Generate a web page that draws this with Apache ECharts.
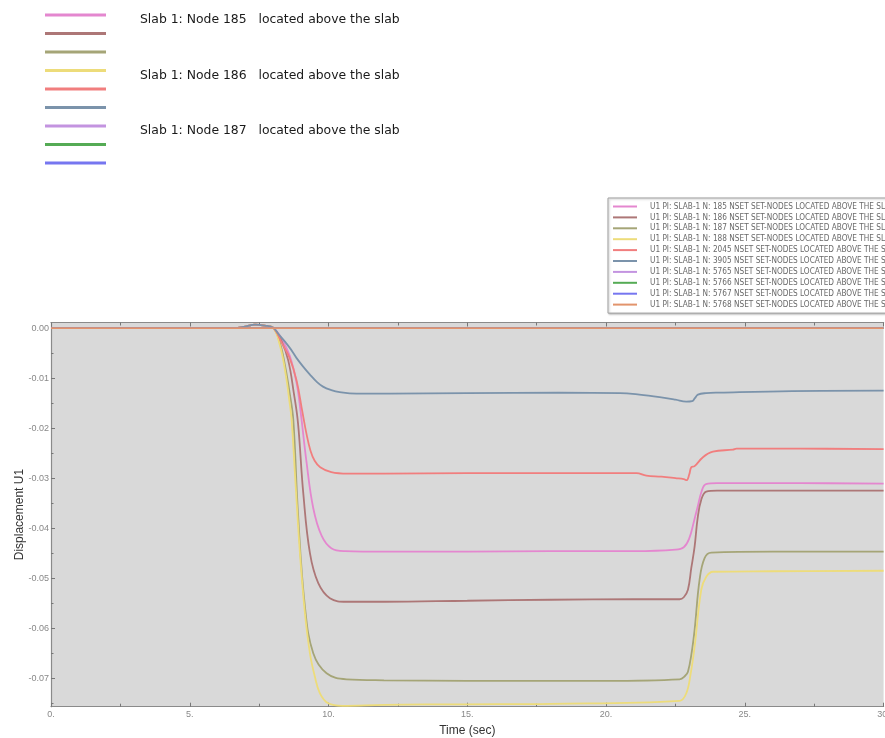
<!DOCTYPE html>
<html>
<head>
<meta charset="utf-8">
<title>Displacement U1 vs time</title>
<script src="https://cdn.jsdelivr.net/npm/echarts@6/dist/echarts.min.js"></script>
<style>
  html, body { margin: 0; padding: 0; background: #ffffff; }
  #chart { width: 885px; height: 738px; }
</style>
</head>
<body>
<div id="chart"></div>
<script>
// Node ids of the monitored points (NSET SET-NODES located above the slab)
const nodeIds = ['185', '186', '187', '188', '2045', '3905', '5765', '5766', '5767', '5768'];

// Line colour for each node
const nodeColors = ['#e487cf', '#ad7777', '#a5a577', '#eddc7a', '#f17e7e',
                    '#7b93ab', '#c394e0', '#55ab55', '#7676f0', '#e2946c'];

// Time history of U1 for each node: [time (sec), displacement]
const u1Node185 = [[0, 0], [6.6, 0], [7.0, 0.0003], [7.35, 0.0007], [7.7, 0.0005], [8.0, 0.0001],
  [8.3, -0.002], [8.6, -0.0055], [8.85, -0.011], [9.0, -0.017], [9.2, -0.0265], [9.45, -0.036],
  [9.75, -0.0415], [10.1, -0.044], [10.6, -0.0446], [12, -0.0447], [15, -0.0447], [18, -0.0446],
  [21, -0.0446], [22.5, -0.0443], [22.8, -0.0438], [23.0, -0.042], [23.15, -0.039], [23.3, -0.0357],
  [23.45, -0.0325], [23.6, -0.0312], [24, -0.031], [27, -0.031], [30, -0.0311]];

const u1Node186 = [[0, 0], [6.6, 0], [7.0, 0.0003], [7.35, 0.0007], [7.7, 0.0005], [8.0, 0.0001],
  [8.3, -0.0025], [8.55, -0.0065], [8.75, -0.013], [8.9, -0.019], [9.09, -0.033], [9.33, -0.045],
  [9.63, -0.051], [10.05, -0.054], [10.65, -0.0547], [12, -0.0547], [15, -0.0545], [18, -0.0543],
  [21, -0.0542], [22.65, -0.0542], [22.8, -0.0538], [22.95, -0.0523], [23.07, -0.048], [23.19, -0.0437],
  [23.3, -0.038], [23.43, -0.0343], [23.61, -0.0327], [24, -0.0325], [30, -0.0325]];

const u1Node187 = [[0, 0], [6.6, 0], [7.0, 0.0003], [7.35, 0.0007], [7.7, 0.0005], [8.0, 0.0001],
  [8.25, -0.003], [8.45, -0.008], [8.6, -0.013], [8.73, -0.0183], [8.9, -0.037], [9.15, -0.0557],
  [9.45, -0.065], [9.93, -0.069], [10.65, -0.0702], [12, -0.0704], [15, -0.0705], [20, -0.0705],
  [22.65, -0.0702], [22.85, -0.0695], [22.95, -0.0687], [23.08, -0.065], [23.19, -0.0603],
  [23.37, -0.0503], [23.55, -0.046], [23.79, -0.0449], [26, -0.0447], [30, -0.0447]];

const u1Node188 = [[0, 0], [6.6, 0], [7.0, 0.0003], [7.35, 0.0007], [7.7, 0.0005], [8.0, 0.0001],
  [8.25, -0.0035], [8.45, -0.009], [8.6, -0.015], [8.67, -0.0183], [8.8, -0.03], [8.97, -0.045],
  [9.15, -0.057], [9.33, -0.065], [9.5, -0.0695], [9.69, -0.073], [9.99, -0.075], [10.5, -0.0755],
  [12, -0.0753], [15, -0.0752], [18, -0.0751], [22.65, -0.0745], [22.89, -0.073], [23.05, -0.069],
  [23.19, -0.0637], [23.43, -0.0523], [23.61, -0.0497], [23.85, -0.0487], [26, -0.0486], [30, -0.0485]];

const u1Node2045 = [[0, 0], [6.6, 0], [7.0, 0.0003], [7.35, 0.0007], [7.7, 0.0005], [8.0, 0.0001],
  [8.3, -0.0028], [8.6, -0.006], [8.85, -0.0105], [9.05, -0.0165], [9.2, -0.021], [9.35, -0.0245],
  [9.5, -0.0265], [9.7, -0.0278], [10.1, -0.0288], [10.7, -0.0291], [12, -0.0291], [15, -0.029],
  [18, -0.029], [21.1, -0.029], [21.45, -0.0295], [22, -0.0297], [22.5, -0.03], [22.8, -0.0302],
  [22.9, -0.0304], [23.0, -0.0292], [23.07, -0.0278], [23.19, -0.0276], [23.49, -0.0258],
  [23.85, -0.0247], [24.57, -0.0243], [24.7, -0.0241], [27, -0.0241], [30, -0.0242]];

const u1Node3905 = [[0, 0], [6.6, 0], [7.0, 0.0003], [7.35, 0.0007], [7.7, 0.0005], [8.0, 0.0001],
  [8.2, -0.0012], [8.43, -0.0027], [8.65, -0.0043], [8.85, -0.006], [9.1, -0.0078], [9.33, -0.0093],
  [9.55, -0.0106], [9.8, -0.0117], [10.1, -0.0124], [10.4, -0.0128], [11, -0.0131], [12.2, -0.0131],
  [15, -0.013], [18.3, -0.0129], [20.5, -0.013], [21.2, -0.0133], [21.93, -0.0138], [22.5, -0.0143],
  [22.89, -0.0147], [23.1, -0.0146], [23.2, -0.014], [23.31, -0.0133], [23.6, -0.013], [24.1, -0.0129],
  [26.7, -0.0126], [30, -0.0125]];

const u1Node5765 = [[0, 0], [30, 0]];
const u1Node5766 = [[0, 0], [30, 0]];
const u1Node5767 = [[0, 0], [30, 0]];
const u1Node5768 = [[0, 0], [30, 0]];

const nodeHistories = [u1Node185, u1Node186, u1Node187, u1Node188, u1Node2045,
                       u1Node3905, u1Node5765, u1Node5766, u1Node5767, u1Node5768];

// Axis tick values
const timeTicks = [0, 5, 10, 15, 20, 25, 30];
const dispTicks = [0, -0.01, -0.02, -0.03, -0.04, -0.05, -0.06, -0.07];
const dispMinorTicks = [-0.005, -0.015, -0.025, -0.035, -0.045, -0.055, -0.065, -0.075];

// Captions in the upper-left key
const keyCaptions = [
  { node: '185', text: 'Slab 1: Node 185   located above the slab' },
  { node: '188', text: 'Slab 1: Node 186   located above the slab' },
  { node: '5765', text: 'Slab 1: Node 187   located above the slab' }
];

const seriesName = id => 'U1 PI: SLAB-1 N: ' + id + ' NSET SET-NODES LOCATED ABOVE THE SLAB';
const seriesNames = nodeIds.map(seriesName);

const chart = echarts.init(document.getElementById('chart'), null, { renderer: 'canvas' });

const tickFont = "'Liberation Sans', Arial, sans-serif";
const axisGray = '#8a8a8a';

const option = {
  animation: false,
  backgroundColor: '#ffffff',
  grid: {
    left: 51, top: 322.5, right: 1.4, bottom: 31.3,
    outerBoundsMode: 'none',
    containLabel: false,
    show: true, backgroundColor: '#d9d9d9', borderWidth: 0
  },
  legend: [
    {
      // upper-left key: swatches only, captions drawn as graphic text
      data: seriesNames.slice(0, 9),
      orient: 'vertical',
      left: 45, top: 13.5,
      padding: 0,
      itemWidth: 61, itemHeight: 3,
      itemGap: 15.5,
      icon: 'rect',
      selectedMode: false,
      formatter: () => '',
      textStyle: { fontSize: 1, lineHeight: 3 }
    },
    {
      data: seriesNames,
      orient: 'vertical',
      left: 608, top: 198,
      padding: [4, 6, 4, 5],
      backgroundColor: '#ffffff',
      borderColor: '#a0a0a0', borderWidth: 1,
      shadowColor: 'rgba(0,0,0,0.25)', shadowBlur: 2, shadowOffsetX: 1, shadowOffsetY: 1,
      itemWidth: 24, itemHeight: 2,
      itemGap: 1.9,
      icon: 'rect',
      selectedMode: false,
      textStyle: {
        fontFamily: "'Liberation Sans Narrow', 'DejaVu Sans Condensed', sans-serif",
        fontSize: 8.2, lineHeight: 9, color: '#6a6a6a', padding: [0, 0, 0, 8]
      }
    }
  ],
  graphic: keyCaptions.map(c => ({
    type: 'text',
    left: 140,
    top: 14 + nodeIds.indexOf(c.node) * 18.45,
    style: {
      text: c.text,
      font: "12.4px 'DejaVu Sans', sans-serif",
      fill: '#1a1a1a'
    }
  })),
  xAxis: [
    {
      type: 'value', position: 'bottom',
      min: 0, max: 30, interval: 5,
      name: 'Time (sec)', nameLocation: 'middle', nameGap: 18,
      nameMoveOverlap: false,
      nameTextStyle: { fontFamily: tickFont, fontSize: 12, color: '#333' },
      axisLine: { show: true, onZero: false, lineStyle: { color: axisGray, width: 1.2 } },
      axisTick: { show: true, inside: true, length: 4, lineStyle: { color: '#777' } },
      minorTick: { show: true, splitNumber: 2, length: 3, lineStyle: { color: '#777' } },
      splitLine: { show: false },
      axisLabel: {
        margin: 3, fontFamily: tickFont, fontSize: 9, color: '#888',
        formatter: v => (timeTicks.includes(v) ? v + '.' : '')
      }
    },
    {
      type: 'value', position: 'top',
      min: 0, max: 30, interval: 5,
      axisLine: { show: true, onZero: false, lineStyle: { color: axisGray, width: 1.2 } },
      axisTick: { show: true, inside: true, length: 4, lineStyle: { color: '#777' } },
      minorTick: { show: true, splitNumber: 2, length: 3, lineStyle: { color: '#777' } },
      splitLine: { show: false },
      axisLabel: { show: false }
    }
  ],
  yAxis: [
    {
      type: 'value', position: 'left',
      min: -0.07568, max: 0.00112,
      name: 'Displacement U1', nameLocation: 'middle', nameGap: 25,
      nameMoveOverlap: false,
      nameTextStyle: { fontFamily: tickFont, fontSize: 12, color: '#333' },
      axisLine: { show: true, onZero: false, lineStyle: { color: axisGray, width: 1.2 } },
      axisTick: { show: true, inside: true, length: 4, customValues: dispTicks, lineStyle: { color: '#777' } },
      splitLine: { show: false },
      axisLabel: {
        margin: 2, fontFamily: tickFont, fontSize: 9, color: '#888',
        customValues: dispTicks,
        formatter: v => (Math.abs(v) < 1e-9 ? '0.00' : v.toFixed(2))
      }
    },
    {
      type: 'value', position: 'left',
      min: -0.07568, max: 0.00112,
      axisLine: { show: false },
      axisTick: { show: true, inside: true, length: 2.5, customValues: dispMinorTicks, lineStyle: { color: '#777' } },
      splitLine: { show: false },
      axisLabel: { show: false }
    }
  ],
  series: nodeHistories.map((data, i) => ({
    name: seriesNames[i],
    type: 'line',
    xAxisIndex: 0, yAxisIndex: 0,
    data: data,
    showSymbol: false,
    smooth: 0.4,
    color: nodeColors[i],
    lineStyle: { width: 1.8, color: nodeColors[i] },
    emphasis: { disabled: true }
  }))
};

chart.setOption(option);
</script>
</body>
</html>
